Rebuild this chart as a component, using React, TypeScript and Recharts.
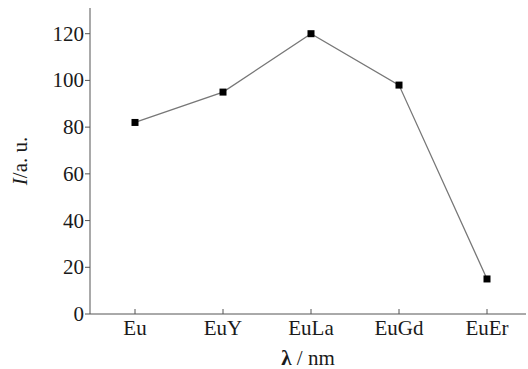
import { LineChart, Line, XAxis, YAxis, Label } from "recharts";

const samples = ["Eu", "EuY", "EuLa", "EuGd", "EuEr"];
const intensity = [82, 95, 120, 98, 15];
const yTicks = [0, 20, 40, 60, 80, 100, 120];

const data = samples.map((s, i) => ({ name: s, value: intensity[i] }));

const font = "Liberation Serif, DejaVu Serif, serif";
const ink = "#1a1a1a";
const axisColor = "#555";
const txt = { fontFamily: font, fontSize: 21 };

function XTick(props: any) {
  const { x, y, payload } = props;
  return (
    <g>
      <line x1={x} y1={y} x2={x} y2={y - 5} stroke={axisColor} strokeWidth={1} />
      <text x={x} y={y + 21} textAnchor="middle" style={txt} fill={ink}>
        {payload.value}
      </text>
    </g>
  );
}

function YTick(props: any) {
  const { x, y, payload } = props;
  return (
    <text x={x} y={y + 7} textAnchor="end" style={txt} fill={ink}>
      {payload.value}
    </text>
  );
}

function Square(props: any) {
  const { cx, cy } = props;
  if (cx == null || cy == null) return null;
  return <rect x={cx - 3.5} y={cy - 3.5} width={7} height={7} fill="#000" />;
}

export default function App() {
  return (
    <div style={{ position: "absolute", left: 0, top: 0, background: "#fff" }}>
      <LineChart
        width={528}
        height={369}
        data={data}
        margin={{ top: 8, right: 2, bottom: 25, left: 30 }}
      >
        <XAxis
          dataKey="name"
          interval={0}
          padding={{ left: 45, right: 39 }}
          stroke={axisColor}
          tickLine={false}
          tickSize={0}
          tickMargin={0}
          tick={<XTick />}
          height={30}
        >
          <Label
            content={(p: any) => {
              const vb = p.viewBox;
              return (
                <text
                  x={vb.x + vb.width / 2}
                  y={vb.y + 51}
                  textAnchor="middle"
                  style={txt}
                  fill={ink}
                >
                  <tspan fontWeight="bold">λ</tspan>
                  <tspan> / nm</tspan>
                </text>
              );
            }}
          />
        </XAxis>
        <XAxis xAxisId="top" orientation="top" dataKey="name" tick={false} tickLine={false} height={0} stroke={axisColor} />
        <YAxis
          domain={[0, 131]}
          ticks={yTicks}
          width={60}
          stroke={axisColor}
          tickSize={5}
          tickMargin={1}
          tick={<YTick />}
        >
          <Label
            content={(p: any) => {
              const vb = p.viewBox;
              const cx = 20;
              const cy = vb.y + vb.height / 2;
              return (
                <text
                  x={cx}
                  y={cy}
                  transform={`rotate(-90 ${cx} ${cy})`}
                  textAnchor="middle"
                  dominantBaseline="central"
                  style={txt}
                  fill={ink}
                >
                  <tspan fontStyle="italic">I</tspan>
                  <tspan>/a. u.</tspan>
                </text>
              );
            }}
          />
        </YAxis>
        <YAxis yAxisId="right" orientation="right" domain={[0, 131]} tick={false} tickLine={false} width={0} stroke="#bbb" />
        <Line
          dataKey="value"
          stroke="#777"
          strokeWidth={1.3}
          dot={<Square />}
          activeDot={false}
          isAnimationActive={false}
        />
      </LineChart>
    </div>
  );
}
